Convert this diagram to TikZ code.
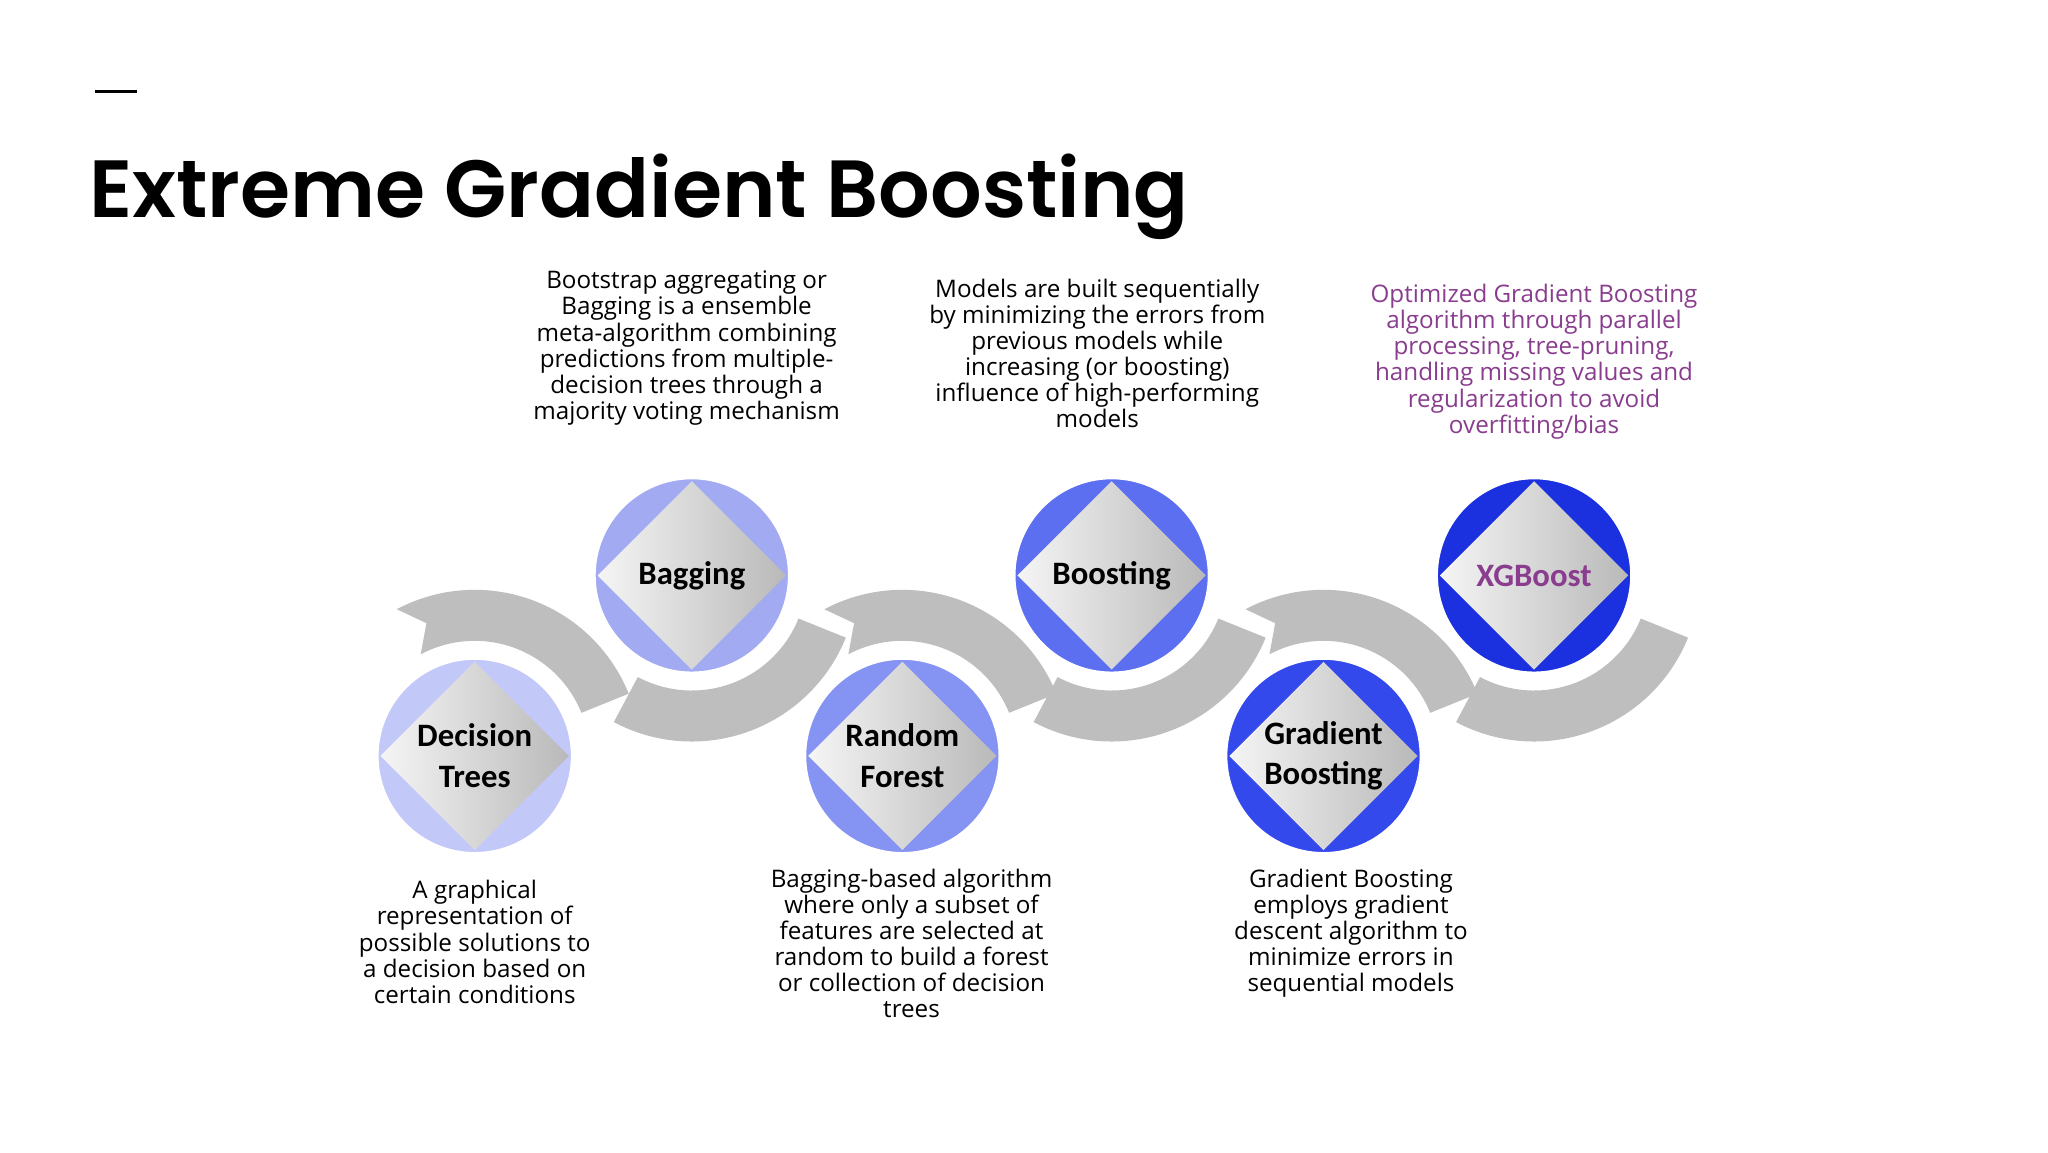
\documentclass[tikz,border=0pt]{standalone}
\usepackage{fontspec}
\setmainfont{Open Sans}
\newfontfamily\titlefont{Poppins SemiBold}
\newfontfamily\boldlab{Carlito}
\usetikzlibrary{calc}
\definecolor{band}{HTML}{BEBEBE}
\definecolor{cA}{HTML}{C2C9F8}
\definecolor{cB}{HTML}{A2ABF2}
\definecolor{cC}{HTML}{8593F2}
\definecolor{cD}{HTML}{5C6FF0}
\definecolor{cE}{HTML}{3449EC}
\definecolor{cF}{HTML}{1B30DE}
\definecolor{purp}{HTML}{8A3C8E}
\tikzset{
  desc/.style={align=center,font=\fontsize{18.5}{20}\selectfont,inner sep=0pt},
  lab/.style={align=center,font=\boldlab\bfseries\fontsize{25}{31}\selectfont,inner sep=0pt},
}
% y axis points down: negative angles are above the centre
\newcommand{\topband}[1]{%
  \fill[band] ($(#1)+(-22:127)$) arc[start angle=-22,end angle=-118,radius=127]
    -- ($(#1)+(-110:108)$) -- ($(#1)+(-118:88)$)
    arc[start angle=-118,end angle=-22,radius=88] -- cycle;}
\newcommand{\botband}[1]{%
  \fill[band] ($(#1)+(118:127)$) arc[start angle=118,end angle=22,radius=127]
    -- ($(#1)+(22:88)$)
    arc[start angle=22,end angle=118,radius=88] -- cycle;}
\newcommand{\disc}[4]{% name, center, color, label
  \coordinate (#1c) at (#2);
  \fill[#3,draw=white,line width=5pt] (#1c) circle[radius=76];
  \shade[left color=gray!8,right color=gray!55]
    ($(#1c)+(0,-72)$) -- ($(#1c)+(72,0)$) -- ($(#1c)+(0,72)$) -- ($(#1c)+(-72,0)$) -- cycle;
  \node[lab] (#1) at (#1c) {#4};}
\begin{document}
\begin{tikzpicture}[x=1pt,y=-1pt]
\useasboundingbox (0,0) rectangle (1566,881);
\fill[white] (0,0) rectangle (1566,881);
\coordinate (d1) at (73,70); \coordinate (d2) at (105,70);
\draw[line width=2.5pt] (d1) -- (d2);
\node[anchor=base west,inner sep=0pt,font=\titlefont\fontsize{62}{70}\selectfont] (title) at (68,166) {Extreme Gradient Boosting};
% bands
\coordinate (p1) at (363,578); \coordinate (p2) at (529,440);
\coordinate (p3) at (690,578); \coordinate (p4) at (850,440);
\coordinate (p5) at (1012,578); \coordinate (p6) at (1173,440);
\topband{p1}\topband{p3}\topband{p5}
\botband{p2}\botband{p4}\botband{p6}
% discs
\disc{dt}{p1}{cA}{Decision\\Trees}
\disc{bag}{p2}{cB}{Bagging}
\disc{rf}{p3}{cC}{Random\\Forest}
\disc{bo}{p4}{cD}{Boosting}
\disc{gb}{p5}{cE}{Gradient\\Boosting}
\disc{xg}{p6}{cF}{\textcolor{purp}{XGBoost}}
% texts
\node[desc,anchor=north] (tbag) at (525,207) {Bootstrap aggregating or\\Bagging is a ensemble\\meta-algorithm combining\\predictions from multiple-\\decision trees through a\\majority voting mechanism};
\node[desc,anchor=north] (tbo) at (839,213) {Models are built sequentially\\by minimizing the errors from\\previous models while\\increasing (or boosting)\\influence of high-performing\\models};
\node[desc,anchor=north,text=purp] (txg) at (1173,217) {Optimized Gradient Boosting\\algorithm through parallel\\processing, tree-pruning,\\handling missing values and\\regularization to avoid\\overfitting/bias};
\node[desc,anchor=north] (tdt) at (363,673) {A graphical\\representation of\\possible solutions to\\a decision based on\\certain conditions};
\node[desc,anchor=north] (trf) at (697,664) {Bagging-based algorithm\\where only a subset of\\features are selected at\\random to build a forest\\or collection of decision\\trees};
\node[desc,anchor=north] (tgb) at (1033,664) {Gradient Boosting\\employs gradient\\descent algorithm to\\minimize errors  in\\sequential models};
\end{tikzpicture}
\end{document}
